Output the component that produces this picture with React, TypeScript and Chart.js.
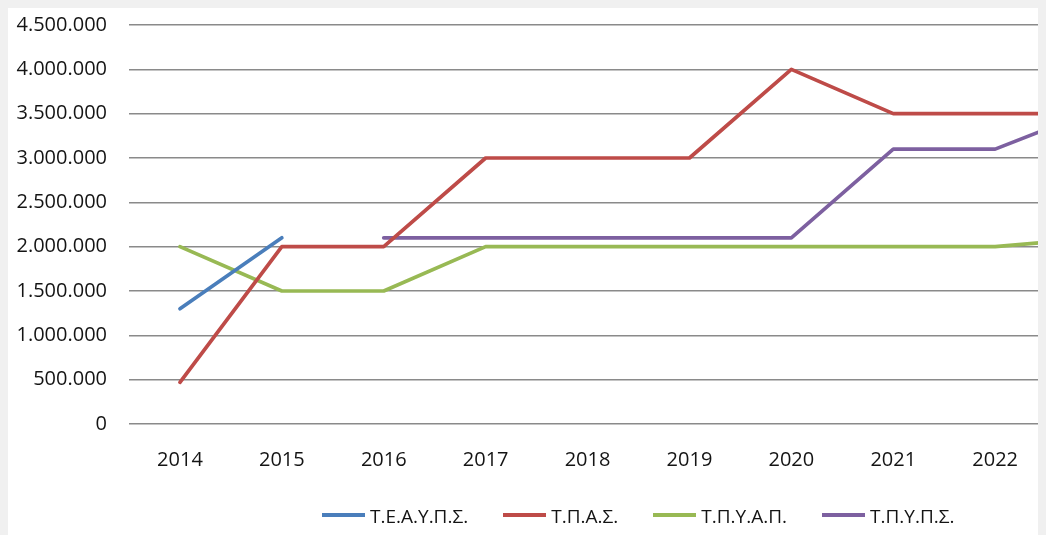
import React, { useEffect, useRef } from "react";
import { Chart, registerables } from "chart.js";

Chart.register(...registerables);

const categories = ["2014", "2015", "2016", "2017", "2018", "2019", "2020", "2021", "2022", "2023"];
const teaypsValues = [1300000, 2100000, null, null, null, null, null, null, null, null];
const tpasValues = [470000, 2000000, 2000000, 3000000, 3000000, 3000000, 4000000, 3500000, 3500000, 3500000];
const tpyapValues = [2000000, 1500000, 1500000, 2000000, 2000000, 2000000, 2000000, 2000000, 2000000, 2100000];
const tpypsValues = [null, null, 2100000, 2100000, 2100000, 2100000, 2100000, 3100000, 3100000, 3550000];

const seriesNames = ["Τ.Ε.Α.Υ.Π.Σ.", "Τ.Π.Α.Σ.", "Τ.Π.Υ.Α.Π.", "Τ.Π.Υ.Π.Σ."];
const seriesColors = ["#4a7ebb", "#be4b48", "#98b954", "#7d60a0"];
const seriesValues = [teaypsValues, tpasValues, tpyapValues, tpypsValues];

const yMin = 0;
const yMax = 4500000;
const yStep = 500000;

const FONT = "'Open Sans', 'Noto Sans', sans-serif";

function formatThousands(v: number): string {
  return String(Math.round(v)).replace(/\B(?=(\d{3})+(?!\d))/g, ".");
}

export default function App() {
  const canvasRef = useRef<HTMLCanvasElement | null>(null);

  useEffect(() => {
    document.body.style.background = "#f0f0f0";
    document.body.style.overflow = "hidden";
    const canvas = canvasRef.current;
    if (!canvas) return;
    const chart = new Chart(canvas, {
      type: "line",
      data: {
        labels: categories,
        datasets: seriesNames.map((name, i) => ({
          label: name,
          data: seriesValues[i],
          borderColor: seriesColors[i],
          backgroundColor: seriesColors[i],
          borderWidth: 3.7,
          pointRadius: 0,
          pointHoverRadius: 0,
          tension: 0,
          spanGaps: false,
          borderCapStyle: "round",
          borderJoinStyle: "round",
          fill: false,
        })),
      },
      options: {
        responsive: false,
        animation: false,
        layout: { padding: 0 },
        plugins: {
          legend: { display: false },
          tooltip: { enabled: false },
        },
        scales: {
          x: {
            type: "category",
            offset: true,
            grid: { display: false, drawTicks: false },
            border: { display: false },
            ticks: {
              padding: 24,
              maxRotation: 0,
              autoSkip: false,
              color: "#141414",
              font: { family: FONT, size: 20 },
            },
            afterFit: (s: any) => {
              s.height = 111;
            },
          },
          y: {
            min: yMin,
            max: yMax,
            grid: {
              color: "#8a8a8a",
              lineWidth: 1.5,
              drawTicks: true,
              tickLength: 17,
              tickColor: "rgba(0,0,0,0)",
            },
            border: { display: false },
            ticks: {
              stepSize: yStep,
              padding: 5,
              color: "#141414",
              font: { family: FONT, size: 20 },
              callback: (v: any) => formatThousands(Number(v)),
            },
            afterFit: (s: any) => {
              s.width = 121;
            },
          },
        },
      },
    });
    return () => chart.destroy();
  }, []);

  return (
    <div
      style={{
        position: "relative",
        width: 1038,
        height: 527,
        overflow: "hidden",
        background: "#ffffff",
      }}
    >
      <canvas ref={canvasRef} width={1140} height={527} style={{ display: "block" }} />
      <div
        style={{
          position: "absolute",
          left: 314,
          top: 497,
          height: 22,
          display: "flex",
          alignItems: "center",
          fontFamily: FONT,
          fontSize: 19,
          color: "#141414",
          whiteSpace: "nowrap",
        }}
      >
        {seriesNames.map((name, i) => (
          <div
            key={name}
            style={{ display: "flex", alignItems: "center", marginRight: 35 }}
          >
            <span
              style={{
                display: "inline-block",
                width: 43,
                height: 3.5,
                background: seriesColors[i],
                marginRight: 5,
                marginTop: -2,
              }}
            />
            <span>{name}</span>
          </div>
        ))}
      </div>
    </div>
  );
}
